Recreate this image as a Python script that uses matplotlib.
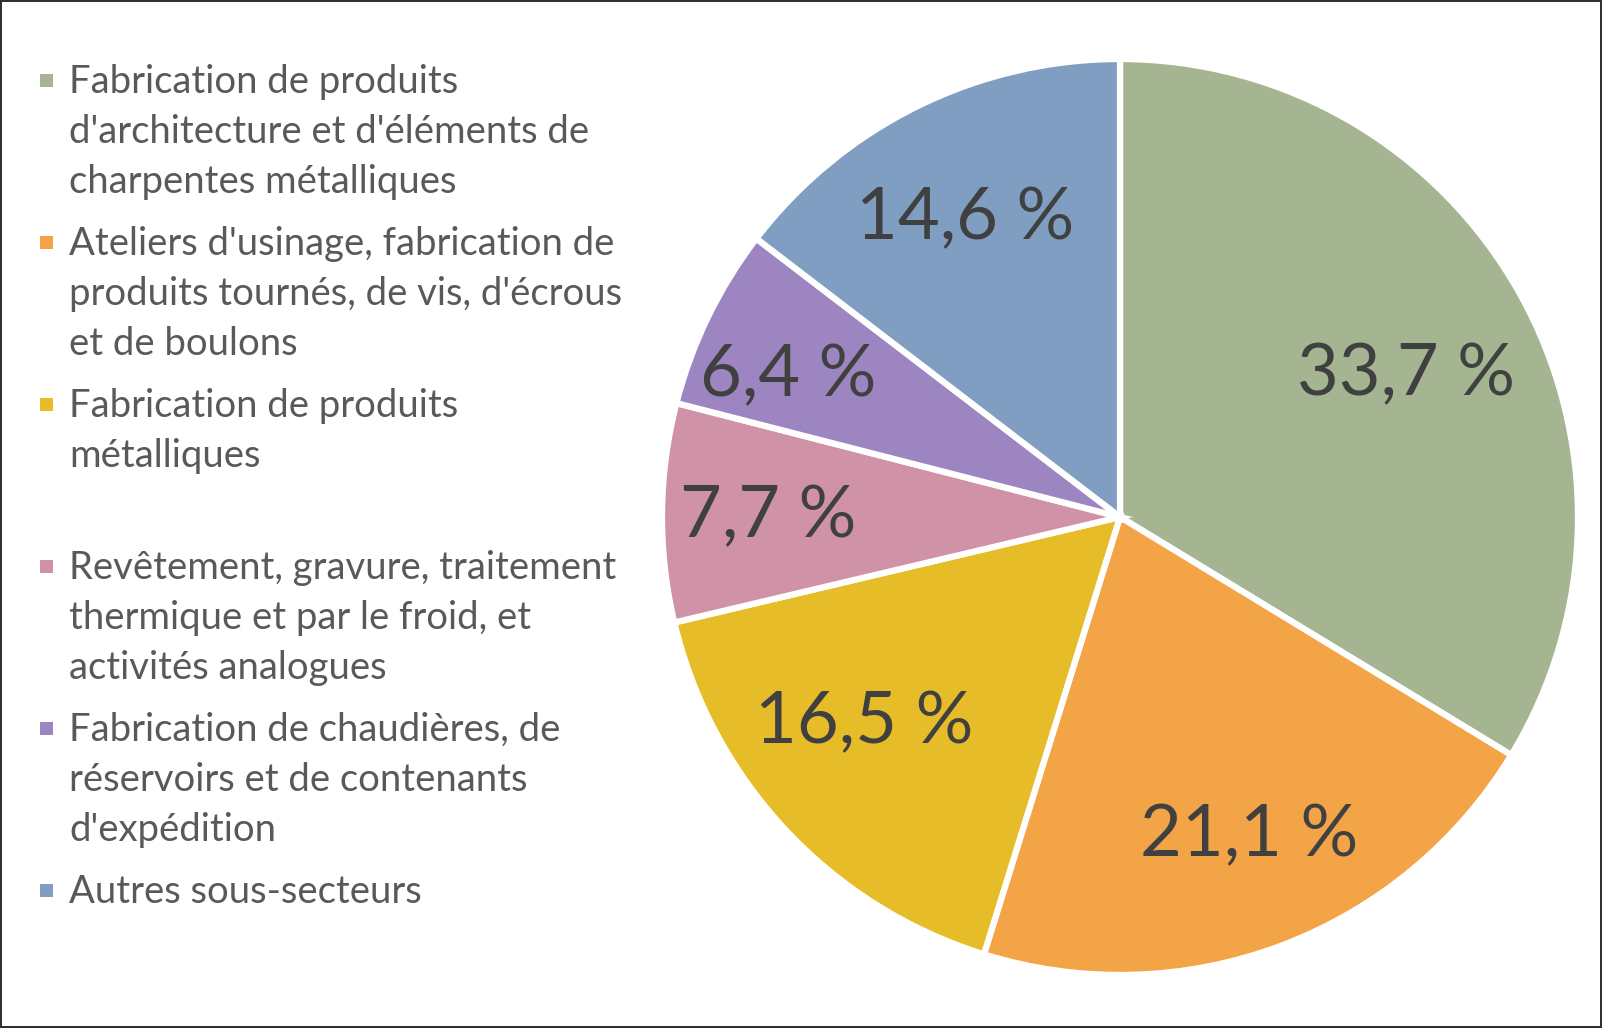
import matplotlib
matplotlib.use("Agg")
import matplotlib.pyplot as plt
import numpy as np
from matplotlib.patches import Rectangle

categories = [
    "Fabrication de produits\nd'architecture et d'éléments de\ncharpentes métalliques",
    "Ateliers d'usinage, fabrication de\nproduits tournés, de vis, d'écrous\net de boulons",
    "Fabrication de produits\nmétalliques",
    "Revêtement, gravure, traitement\nthermique et par le froid, et\nactivités analogues",
    "Fabrication de chaudières, de\nréservoirs et de contenants\nd'expédition",
    "Autres sous-secteurs",
]
values = [33.7, 21.1, 16.5, 7.7, 6.4, 14.6]
value_labels = ["33,7 %", "21,1 %", "16,5 %", "7,7 %", "6,4 %", "14,6 %"]
colors = ["#A5B592", "#F3A447", "#E7BC29", "#D092A7", "#9C85C0", "#809EC2"]
# label placement: radius (fraction of pie radius) and angular offset from wedge middle (deg)
label_r = [0.70, 0.745, 0.713, 0.768, 0.789, 0.738]
label_dang = [-2.5, 1.5, -4.5, 0.0, 2.4, 0.9]

plt.rcParams['font.family'] = ['Lato', 'DejaVu Sans']

W, H = 1602, 1028
fig = plt.figure(figsize=(W / 100, H / 100), dpi=100)
fig.patch.set_facecolor("white")
fig.patch.set_edgecolor("#303030")
fig.patch.set_linewidth(1.5)

cx, cy, R = 1120, 517, 458
ax = fig.add_axes([(cx - R) / W, (H - cy - R) / H, 2 * R / W, 2 * R / H])
wedges, _ = ax.pie(values, colors=colors, startangle=90, counterclock=False,
                   wedgeprops=dict(edgecolor="white", linewidth=4.5))
ax.set_xlim(-1, 1)
ax.set_ylim(-1, 1)
ax.set_aspect("equal")
ax.axis("off")

for w, lab, r, da in zip(wedges, value_labels, label_r, label_dang):
    ang = np.deg2rad((w.theta1 + w.theta2) / 2 + da)
    ax.text(r * np.cos(ang), r * np.sin(ang) - 0.006, lab, ha="center", va="center",
            fontsize=52, color="#404040")

# legend
y0 = 80      # centre of first marker (px from top)
step = 162   # vertical slot per entry (px)
line_h = 50  # px between legend text lines
sq = 13      # marker size (px)
for i, (cat, col) in enumerate(zip(categories, colors)):
    yc = y0 + i * step
    fig.patches.append(Rectangle((40 / W, 1 - (yc + sq / 2) / H), sq / W, sq / H,
                                 transform=fig.transFigure, facecolor=col,
                                 edgecolor="none"))
    for k, line in enumerate(cat.split("\n")):
        fig.text(69 / W, 1 - (yc + 13 + k * line_h) / H, line, ha="left",
                 va="baseline", fontsize=27.5, color="#595959")

fig.savefig("out.png", dpi=100)
